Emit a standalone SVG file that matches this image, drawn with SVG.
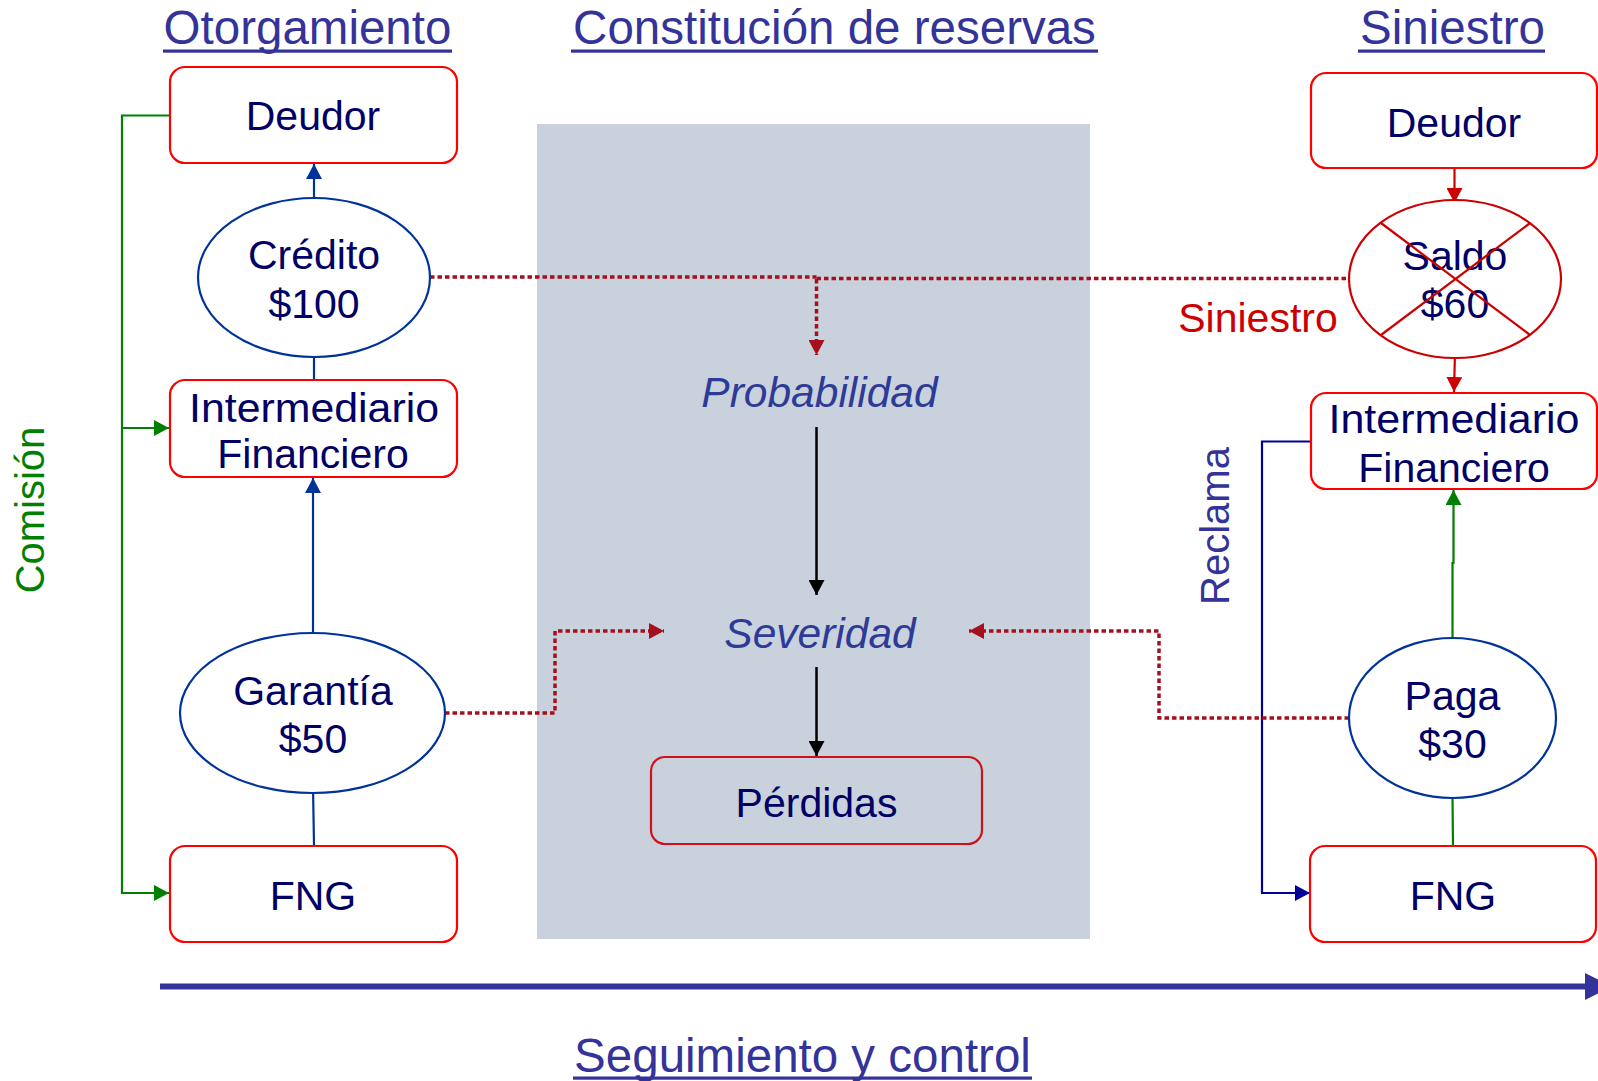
<svg xmlns="http://www.w3.org/2000/svg" width="1598" height="1081" viewBox="0 0 1598 1081">
<style>
text{font-family:"Liberation Sans",Arial,sans-serif}
.title{font-size:47.5px;fill:#333399;text-anchor:middle}
.ul{fill:#333399}
.box{fill:#fff;stroke:#ff0000;stroke-width:2.2}
.ell{fill:#fff;stroke:#003399;stroke-width:2.2}
.nt{font-size:41px;fill:#000066;text-anchor:middle}
.it{font-size:42.5px;fill:#2e3a98;font-style:italic;text-anchor:middle}
.blue{stroke:#003399;stroke-width:2.2;fill:none}
.green{stroke:#008000;stroke-width:2.2;fill:none}
.navy{stroke:#000099;stroke-width:2.2;fill:none}
.red{stroke:#cc0000;stroke-width:2.2;fill:none}
.blk{stroke:#000000;stroke-width:2.5;fill:none}
.dot{stroke:#a50f1e;stroke-width:3.5;fill:none;stroke-dasharray:4.5 3}
</style>
<defs>
<marker id="aBlue" markerUnits="userSpaceOnUse" markerWidth="18" markerHeight="16" refX="15" refY="8" orient="auto"><path d="M0,0 L15,8 L0,16 z" fill="#003399"/></marker>
<marker id="aGreen" markerUnits="userSpaceOnUse" markerWidth="18" markerHeight="16" refX="15" refY="8" orient="auto"><path d="M0,0 L15,8 L0,16 z" fill="#008000"/></marker>
<marker id="aNavy" markerUnits="userSpaceOnUse" markerWidth="18" markerHeight="16" refX="15" refY="8" orient="auto"><path d="M0,0 L15,8 L0,16 z" fill="#000099"/></marker>
<marker id="aRed" markerUnits="userSpaceOnUse" markerWidth="18" markerHeight="16" refX="15" refY="8" orient="auto"><path d="M0,0 L15,8 L0,16 z" fill="#cc0000"/></marker>
<marker id="aBlk" markerUnits="userSpaceOnUse" markerWidth="18" markerHeight="16" refX="15" refY="8" orient="auto"><path d="M0,0 L15,8 L0,16 z" fill="#000000"/></marker>
<marker id="aDot" markerUnits="userSpaceOnUse" markerWidth="18" markerHeight="16" refX="15" refY="8" orient="auto"><path d="M0,0 L15,8 L0,16 z" fill="#a50f1e"/></marker>
</defs>
<rect width="1598" height="1081" fill="#ffffff"/>

<!-- background panel -->
<rect x="537" y="124" width="553" height="815" fill="#c8d1dc"/>

<!-- titles -->
<g id="titles">
<text class="title" x="307.5" y="44">Otorgamiento</text>
<rect class="ul" x="163" y="49.5" width="289" height="3.2"/>
<text class="title" x="834.5" y="44">Constitución de reservas</text>
<rect class="ul" x="571" y="49.5" width="527" height="3.2"/>
<text class="title" x="1452.5" y="44">Siniestro</text>
<rect class="ul" x="1358" y="49.5" width="187" height="3.2"/>
<text class="title" x="802.5" y="1072">Seguimiento y control</text>
<rect class="ul" x="573" y="1076.5" width="459" height="3.2"/>
</g>

<!-- timeline -->
<g id="timeline">
<line x1="160" y1="986.5" x2="1590" y2="986.5" stroke="#333399" stroke-width="6"/>
<polygon points="1585,973 1612,986.5 1585,1000" fill="#333399"/>
</g>

<!-- side labels -->
<text id="comision" transform="translate(44,510) rotate(-90)" font-size="40" fill="#008000" text-anchor="middle">Comisión</text>
<text id="reclama" transform="translate(1229,526) rotate(-90)" font-size="40" fill="#333399" text-anchor="middle">Reclama</text>
<text id="siniestro-label" x="1258" y="331.5" font-size="41" fill="#cc0000" text-anchor="middle">Siniestro</text>

<!-- connectors -->
<g id="connectors">
<line class="blue" x1="314" y1="205" x2="314" y2="164" marker-end="url(#aBlue)"/>
<line class="blue" x1="314" y1="350" x2="314" y2="380"/>
<line class="blue" x1="313" y1="633" x2="313" y2="478" marker-end="url(#aBlue)"/>
<line class="blue" x1="313" y1="786" x2="314" y2="846"/>
<polyline class="green" points="170,115.5 122,115.5 122,893 169,893" marker-end="url(#aGreen)"/>
<polyline class="green" points="122,428 169,428" marker-end="url(#aGreen)"/>
<line class="red" x1="1454.5" y1="168" x2="1454.5" y2="203" marker-end="url(#aRed)"/>
<line class="red" x1="1455" y1="352" x2="1454" y2="392" marker-end="url(#aRed)"/>
<polyline class="navy" points="1311,441.5 1262,441.5 1262,893 1310,893" marker-end="url(#aNavy)"/>
<polyline class="green" points="1452.5,638 1452.5,563 1453.5,563 1453.5,490" marker-end="url(#aGreen)"/>
<line class="green" x1="1452.5" y1="798" x2="1453" y2="846"/>
<line class="blk" x1="816.5" y1="427" x2="816.5" y2="595" marker-end="url(#aBlk)"/>
<line class="blk" x1="816.5" y1="667" x2="816.5" y2="756" marker-end="url(#aBlk)"/>
<line class="dot" x1="430" y1="277" x2="816.5" y2="277"/>
<line class="dot" x1="816.5" y1="278.5" x2="1349" y2="278.5"/>
<line class="dot" x1="816.5" y1="279" x2="816.5" y2="355" marker-end="url(#aDot)"/>
<polyline class="dot" points="445,713 555,713 555,631 664,631" marker-end="url(#aDot)"/>
<polyline class="dot" points="1349,718 1159,718 1159,631 969,631" marker-end="url(#aDot)"/>
</g>

<!-- left column -->
<g id="deudor-l">
<rect class="box" x="170" y="67" width="287" height="96" rx="15"/>
<text class="nt" x="313" y="130">Deudor</text>
</g>
<g id="credito">
<ellipse class="ell" cx="314" cy="277.5" rx="116" ry="79.5"/>
<text class="nt" x="314" y="269">Crédito</text>
<text class="nt" x="314" y="318">$100</text>
</g>
<g id="if-l">
<rect class="box" x="170" y="380" width="287" height="97" rx="15"/>
<text class="nt" x="314" y="421.5" textLength="250" lengthAdjust="spacingAndGlyphs">Intermediario</text>
<text class="nt" x="313" y="468">Financiero</text>
</g>
<g id="garantia">
<ellipse class="ell" cx="312.5" cy="713" rx="132.5" ry="80"/>
<text class="nt" x="313" y="705">Garantía</text>
<text class="nt" x="313" y="753">$50</text>
</g>
<g id="fng-l">
<rect class="box" x="170" y="846" width="287" height="96" rx="15"/>
<text class="nt" x="313" y="910">FNG</text>
</g>

<!-- center -->
<g id="probabilidad">
<text class="it" x="819.5" y="406.5">Probabilidad</text>
</g>
<g id="severidad">
<text class="it" x="820" y="648">Severidad</text>
</g>
<g id="perdidas">
<rect x="651" y="757" width="331" height="87" rx="14" fill="none" stroke="#d0101a" stroke-width="2.2"/>
<text class="nt" x="816.5" y="817">Pérdidas</text>
</g>

<!-- right column -->
<g id="deudor-r">
<rect class="box" x="1311" y="73" width="286" height="95" rx="15"/>
<text class="nt" x="1454" y="136.5">Deudor</text>
</g>
<g id="saldo">
<ellipse cx="1455" cy="279" rx="106" ry="79" fill="#fff" stroke="#cc0000" stroke-width="2.2"/>
<text class="nt" x="1455" y="270">Saldo</text>
<text class="nt" x="1455" y="318">$60</text>
<line class="red" x1="1381" y1="223" x2="1530" y2="335"/>
<line class="red" x1="1530" y1="223" x2="1381" y2="335"/>
</g>
<g id="if-r">
<rect class="box" x="1311" y="393" width="286" height="96" rx="15"/>
<text class="nt" x="1454" y="433" textLength="251" lengthAdjust="spacingAndGlyphs">Intermediario</text>
<text class="nt" x="1454" y="481.5">Financiero</text>
</g>
<g id="paga">
<ellipse class="ell" cx="1452.5" cy="718" rx="103.5" ry="80"/>
<text class="nt" x="1452.5" y="710">Paga</text>
<text class="nt" x="1452.5" y="758">$30</text>
</g>
<g id="fng-r">
<rect class="box" x="1310" y="846" width="286" height="96" rx="15"/>
<text class="nt" x="1453" y="910">FNG</text>
</g>
</svg>
